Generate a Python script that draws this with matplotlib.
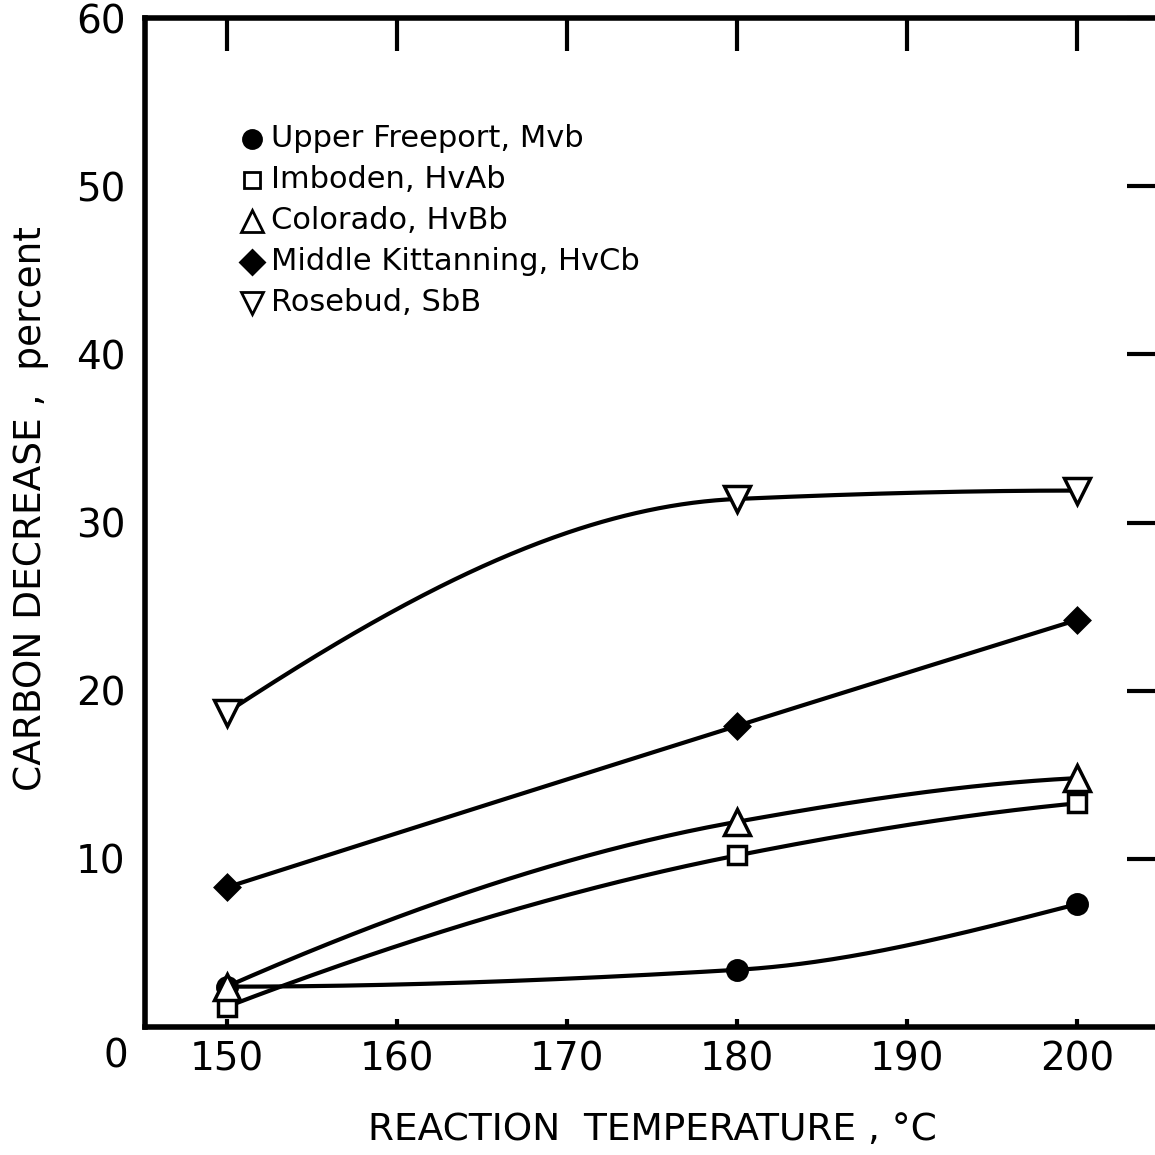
import numpy as np
import matplotlib
matplotlib.use("Agg")
import matplotlib.pyplot as plt

# temperatures, degC
temps = [150, 180, 200]

# carbon decrease, percent
upper_freeport = [2.4, 3.4, 7.3]
imboden = [1.2, 10.2, 13.3]
colorado = [2.4, 12.2, 14.8]
middle_kitt = [8.3, 17.9, 24.2]
rosebud = [18.7, 31.4, 31.9]

names = ["Upper Freeport, Mvb", "Imboden, HvAb", "Colorado, HvBb",
         "Middle Kittanning, HvCb", "Rosebud, SbB"]
series = [upper_freeport, imboden, colorado, middle_kitt, rosebud]
markers = ["o", "s", "^", "D", "v"]
filled = [True, False, False, True, False]
msizes = [14, 13, 19, 12, 19]

xticks = [150, 160, 170, 180, 190, 200]
yticks = [10, 20, 30, 40, 50, 60]


def pchip(x, y, xs):
    # monotone cubic hermite, hand drawn look of the curves
    x = np.asarray(x, float)
    y = np.asarray(y, float)
    h = np.diff(x)
    d = np.diff(y) / h
    m = np.zeros_like(y)
    for k in range(1, len(x) - 1):
        if d[k - 1] * d[k] > 0:
            w1 = 2 * h[k] + h[k - 1]
            w2 = h[k] + 2 * h[k - 1]
            m[k] = (w1 + w2) / (w1 / d[k - 1] + w2 / d[k])
    m[0] = ((2 * h[0] + h[1]) * d[0] - h[0] * d[1]) / (h[0] + h[1])
    if np.sign(m[0]) != np.sign(d[0]):
        m[0] = 0
    m[-1] = ((2 * h[-1] + h[-2]) * d[-1] - h[-1] * d[-2]) / (h[-1] + h[-2])
    if np.sign(m[-1]) != np.sign(d[-1]):
        m[-1] = 0
    out = np.empty_like(xs)
    for i, xv in enumerate(xs):
        k = min(np.searchsorted(x, xv, side="right") - 1, len(x) - 2)
        t = (xv - x[k]) / h[k]
        h00 = 2 * t**3 - 3 * t**2 + 1
        h10 = t**3 - 2 * t**2 + t
        h01 = -2 * t**3 + 3 * t**2
        h11 = t**3 - t**2
        out[i] = h00 * y[k] + h10 * h[k] * m[k] + h01 * y[k + 1] + h11 * h[k] * m[k + 1]
    return out


fig = plt.figure(figsize=(11.55, 11.55), dpi=100)
ax = fig.add_axes([0.1255, 0.1108, 0.8745, 0.8736])
ax.set_xlim(145.2, 204.6)
ax.set_ylim(0, 60)

for vals, m, f, ms in zip(series, markers, filled, msizes):
    xs = np.linspace(temps[0], temps[-1], 300)
    ax.plot(xs, pchip(temps, vals, xs), color="black", lw=3, zorder=2)
    ax.plot(temps, vals, ls="none", marker=m, ms=ms,
            mfc="black" if f else "white", mec="black", mew=2.5, zorder=3)

# legend drawn as text + markers
lx, ly, dy = 0.218, 0.880, 0.0355
for i, (n, m, f) in enumerate(zip(names, markers, filled)):
    y = ly - i * dy
    ms = 13 if m == "o" else (11 if m == "s" else (16 if m in "^v" else 12))
    ax.plot([lx], [y], transform=fig.transFigure, marker=m, ms=ms,
            mfc="black" if f else "white", mec="black", mew=2, clip_on=False)
    fig.text(lx + 0.017, y, n, fontsize=22, va="center", ha="left")

for s in ["left", "top", "bottom"]:
    ax.spines[s].set_linewidth(4)
ax.spines["right"].set_visible(False)

ax.set_xticks(xticks)
ax.set_xticklabels([str(t) for t in xticks], fontsize=28)
ax.set_yticks(yticks)
ax.set_yticklabels([str(t) for t in yticks], fontsize=28)
ax.tick_params(axis="x", direction="in", length=6, width=3, pad=10,
               top=True, bottom=True)
ax.tick_params(axis="y", direction="in", length=20, width=3, pad=14,
               left=False, right=True, labelleft=True)
# longer ticks on top
for t in ax.xaxis.get_major_ticks():
    t.tick2line.set_markersize(24)

fig.text(0.1, 0.085, "0", fontsize=28, ha="center", va="center")
fig.text(0.565, 0.022, "REACTION  TEMPERATURE , \u00b0C", fontsize=27,
         ha="center", va="center")
fig.text(0.027, 0.56, "CARBON DECREASE ,  percent", fontsize=27,
         ha="center", va="center", rotation=90)

fig.savefig("out.png", dpi=100)
